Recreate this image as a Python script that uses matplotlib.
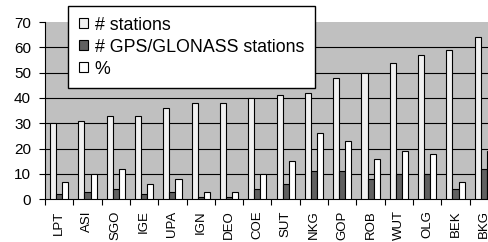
import numpy as np
from matplotlib import pyplot as plt

plt.rcParams['font.family'] = ['Liberation Sans', 'DejaVu Sans']

# analysis centres
centres = ['LPT', 'ASI', 'SGO', 'IGE', 'UPA', 'IGN', 'DEO', 'COE',
           'SUT', 'NKG', 'GOP', 'ROB', 'WUT', 'OLG', 'BEK', 'BKG']
# number of stations per centre
n_stations = [30, 31, 33, 33, 36, 38, 38, 40, 41, 42, 48, 50, 54, 57, 59, 64]
# number of GPS/GLONASS stations
n_glonass = [2, 3, 4, 2, 3, 1, 1, 4, 6, 11, 11, 8, 10, 10, 4, 12]
# percentage
percent = [7, 10, 12, 6, 8, 3, 3, 10, 15, 26, 23, 16, 19, 18, 7, 19]

fig = plt.figure(figsize=(4.89, 2.42), dpi=100)
# axes runs a bit past the right edge of the figure (cropped like the original)
ax = fig.add_axes([45/489, 42.7/242, 453/489, 177.3/242])
ax.set_facecolor('#c0c0c0')

x = np.arange(len(centres))
w = 0.215
ax.bar(x - w, n_stations, w, color='#f0f0f0', edgecolor='black', linewidth=0.8,
       label='# stations', zorder=3)
ax.bar(x, n_glonass, w, color='#606060', edgecolor='black', linewidth=0.8,
       label='# GPS/GLONASS stations', zorder=3)
ax.bar(x + w, percent, w, color='white', edgecolor='black', linewidth=0.8,
       label='%', zorder=3)

ax.set_xlim(-0.5, len(centres) - 0.5)
ax.set_ylim(0, 70)
ax.set_yticks(np.arange(0, 71, 10))
for yv in range(10, 70, 10):
    ax.axhline(yv, color='black', linewidth=0.8, zorder=1)

ax.set_xticks(x)
ax.set_xticklabels(centres, rotation=90)
ax.set_xticks(np.arange(len(centres) + 1) - 0.5, minor=True)
ax.tick_params(axis='x', which='major', length=0, pad=8, labelsize=9.5)
ax.tick_params(axis='x', which='minor', length=4.5, direction='out', width=0.8)
ax.tick_params(axis='y', length=4.5, width=0.8, pad=5.5, labelsize=11)

ax.spines['top'].set_visible(False)
ax.spines['right'].set_visible(False)
ax.spines['left'].set_linewidth(0.8)
ax.spines['bottom'].set_linewidth(0.8)

leg = ax.legend(loc='upper left', bbox_to_anchor=(68/489, 1 - 6/242),
                bbox_transform=fig.transFigure, fontsize=12.8, fancybox=False,
                framealpha=1, edgecolor='black', handlelength=0.5,
                handleheight=0.5, handletextpad=0.4, labelspacing=0.28,
                borderpad=0.6, borderaxespad=0)
leg.get_frame().set_linewidth(1.0)
leg.set_zorder(5)

fig.savefig('out.png', dpi=100)
